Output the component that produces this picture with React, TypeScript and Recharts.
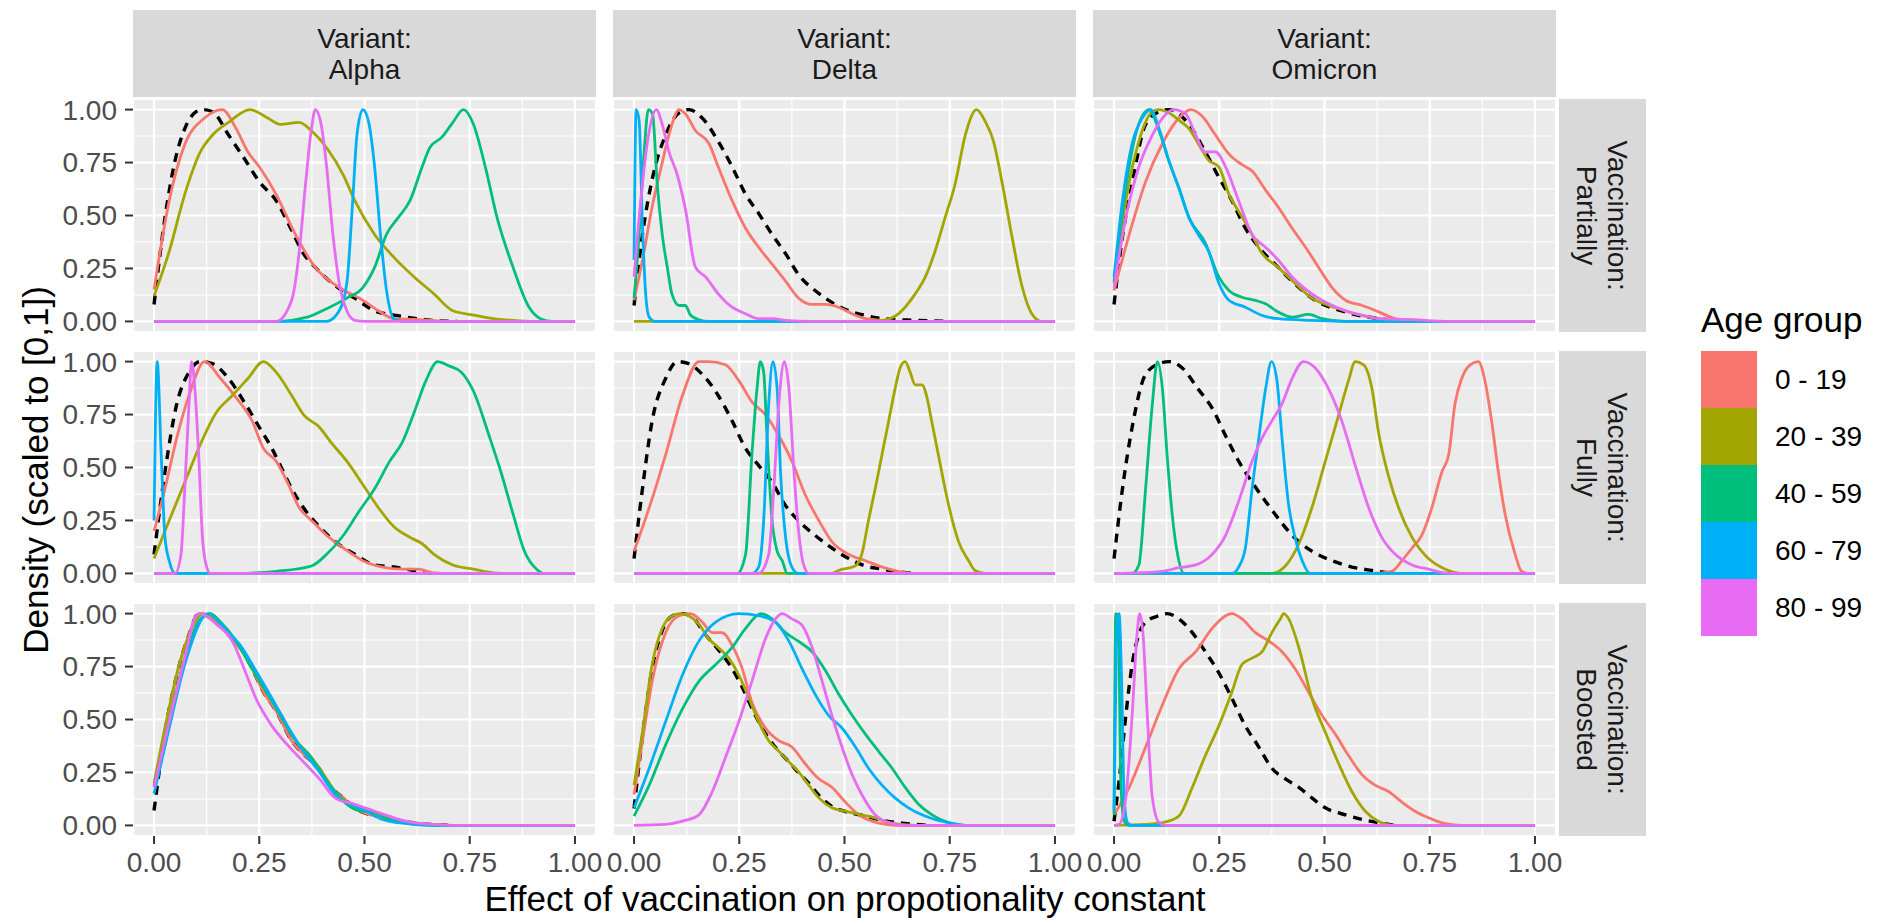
import React from "react";
import {
  LineChart,
  Line,
  XAxis,
  YAxis,
  CartesianGrid,
  ReferenceLine,
} from "recharts";

type Pt = [number, number];
type PanelData = { prior: Pt[]; ages: Pt[][] };

const VARIANTS = ["Alpha", "Delta", "Omicron"];
const VACCINATION = ["Partially", "Fully", "Boosted"];
const AGE_GROUPS = ["0 - 19", "20 - 39", "40 - 59", "60 - 79", "80 - 99"];
const AGE_COLORS = ["#F8766D", "#A3A500", "#00BF7D", "#00B0F6", "#E76BF3"];
const X_TICKS = [0, 0.25, 0.5, 0.75, 1];
const Y_TICKS = [0, 0.25, 0.5, 0.75, 1];
const MINOR_BREAKS = [0.125, 0.375, 0.625, 0.875];

// density curves, scaled to [0,1]; ages in AGE_GROUPS order
const alphaPartially: PanelData = {
  prior: [[0, .08], [.026, .49], [.05, .76], [.073, .91], [.1, .99], [.115, 1], [.139, .99], [.177, .88], [.214, .77], [.25, .66], [.29, .57], [.327, .43], [.355, .32], [.383, .255], [.43, .17], [.477, .11], [.524, .05], [.57, .03], [.6, .02], [.66, .005], [.72, 0]],
  ages: [
    [[0, .15], [.036, .57], [.073, .835], [.12, .96], [.162, 1], [.195, .91], [.223, .8], [.25, .73], [.29, .6], [.336, .41], [.383, .255], [.44, .16], [.496, .1], [.533, .05], [.57, .013], [.618, .01], [.66, .005], [.7, 0], [1, 0]],
    [[0, .12], [.036, .33], [.073, .6], [.11, .8], [.139, .88], [.177, .94], [.228, 1], [.27, .96], [.3, .93], [.345, .94], [.374, .9], [.41, .82], [.45, .69], [.477, .57], [.524, .41], [.571, .3], [.618, .21], [.665, .13], [.71, .05], [.759, .03], [.806, .013], [.85, .005], [.9, 0], [1, 0]],
    [[0, 0], [.29, 0], [.364, .02], [.41, .06], [.458, .11], [.496, .16], [.524, .255], [.552, .41], [.58, .49], [.608, .57], [.637, .73], [.655, .82], [.684, .87], [.71, .94], [.735, 1], [.759, .93], [.787, .73], [.815, .49], [.853, .255], [.89, .07], [.918, .013], [.946, 0], [1, 0]],
    [[0, 0], [.41, 0], [.44, .05], [.458, .18], [.472, .57], [.482, .88], [.496, 1], [.51, .94], [.524, .73], [.538, .41], [.552, .15], [.571, .01], [.59, 0], [1, 0]],
    [[0, 0], [.29, 0], [.327, .1], [.345, .33], [.36, .65], [.374, .91], [.383, 1], [.397, .93], [.41, .73], [.425, .41], [.44, .18], [.458, .05], [.477, .005], [.5, 0], [1, 0]],
  ],
};

const deltaPartially: PanelData = {
  prior: [[0, .075], [.02, .41], [.043, .67], [.075, .88], [.107, .985], [.13, 1], [.162, .96], [.2, .85], [.233, .73], [.265, .6], [.296, .51], [.328, .41], [.36, .32], [.391, .22], [.43, .146], [.47, .09], [.51, .05], [.55, .028], [.59, .013], [.668, .005], [.75, 0]],
  ages: [
    [[0, .1], [.02, .29], [.043, .54], [.067, .75], [.087, .91], [.107, 1], [.122, .98], [.146, .9], [.178, .84], [.2, .73], [.233, .57], [.265, .44], [.296, .35], [.328, .27], [.36, .19], [.391, .11], [.423, .08], [.455, .08], [.486, .067], [.518, .036], [.55, .013], [.59, .005], [.63, 0], [1, 0]],
    [[0, 0], [.55, 0], [.59, .005], [.628, .036], [.668, .13], [.692, .21], [.715, .33], [.739, .49], [.763, .65], [.787, .88], [.814, 1], [.834, .945], [.854, .85], [.874, .66], [.897, .41], [.92, .18], [.945, .036], [.968, 0], [1, 0]],
    [[0, .11], [.012, .41], [.024, .8], [.034, 1], [.044, .98], [.055, .65], [.067, .41], [.079, .255], [.09, .13], [.107, .075], [.122, .075], [.134, .03], [.154, .008], [.178, 0], [1, 0]],
    [[0, .29], [.005, 1], [.012, .95], [.02, .45], [.028, .12], [.036, .02], [.05, 0], [1, 0]],
    [[0, .21], [.016, .57], [.032, .85], [.053, 1], [.067, .93], [.083, .8], [.103, .69], [.122, .53], [.146, .255], [.17, .21], [.2, .13], [.233, .067], [.265, .036], [.296, .013], [.33, .013], [.36, .005], [.42, 0], [1, 0]],
  ],
};

const omicronPartially: PanelData = {
  prior: [[0, .08], [.02, .4], [.043, .65], [.075, .93], [.107, .99], [.13, 1], [.178, .93], [.217, .8], [.249, .68], [.28, .57], [.312, .44], [.344, .35], [.39, .255], [.423, .19], [.47, .11], [.55, .044], [.63, .013], [.71, 0]],
  ages: [
    [[0, .146], [.036, .41], [.075, .66], [.115, .84], [.154, .96], [.182, 1], [.209, .97], [.241, .88], [.273, .79], [.304, .74], [.328, .71], [.36, .62], [.39, .54], [.423, .44], [.455, .35], [.486, .255], [.518, .16], [.55, .1], [.59, .075], [.63, .044], [.668, .013], [.71, .005], [.747, 0], [1, 0]],
    [[0, .18], [.028, .57], [.059, .85], [.091, .99], [.107, 1], [.13, .985], [.154, .95], [.178, .91], [.2, .84], [.225, .76], [.249, .73], [.273, .6], [.296, .52], [.32, .44], [.352, .32], [.39, .255], [.43, .18], [.47, .11], [.51, .075], [.55, .05], [.59, .028], [.63, .013], [.71, 0], [1, 0]],
    [[0, .19], [.028, .63], [.051, .88], [.083, 1], [.107, .9], [.13, .76], [.154, .63], [.178, .49], [.217, .37], [.249, .21], [.273, .146], [.304, .114], [.336, .099], [.36, .083], [.39, .044], [.423, .02], [.462, .033], [.494, .013], [.55, 0], [1, 0]],
    [[0, .21], [.02, .57], [.043, .84], [.067, .96], [.087, 1], [.107, .91], [.13, .76], [.154, .63], [.178, .49], [.2, .41], [.225, .33], [.249, .18], [.273, .1], [.312, .067], [.352, .028], [.39, .013], [.47, .005], [.55, 0], [1, 0]],
    [[0, .16], [.028, .49], [.059, .73], [.091, .88], [.115, .96], [.142, 1], [.17, .98], [.194, .88], [.217, .8], [.241, .8], [.265, .73], [.296, .57], [.328, .41], [.36, .35], [.39, .29], [.423, .21], [.47, .13], [.51, .083], [.55, .05], [.59, .028], [.63, .013], [.71, .008], [.79, 0], [1, 0]],
  ],
};

const alphaFully: PanelData = {
  prior: [[0, .09], [.026, .48], [.054, .8], [.083, .95], [.11, 1], [.139, .99], [.177, .92], [.214, .81], [.25, .69], [.28, .59], [.3, .51], [.327, .4], [.355, .31], [.393, .22], [.43, .15], [.477, .09], [.524, .04], [.57, .03], [.627, .01], [.66, 0]],
  ages: [
    [[0, .2], [.026, .4], [.054, .64], [.083, .84], [.12, 1], [.158, .92], [.195, .83], [.233, .72], [.26, .59], [.29, .53], [.317, .43], [.345, .31], [.374, .25], [.41, .18], [.45, .12], [.496, .06], [.543, .03], [.59, .02], [.627, .02], [.665, .003], [.71, 0], [1, 0]],
    [[0, .07], [.036, .25], [.073, .43], [.11, .61], [.148, .76], [.186, .84], [.223, .92], [.26, 1], [.29, .95], [.327, .84], [.355, .75], [.393, .69], [.42, .62], [.458, .53], [.496, .42], [.533, .31], [.57, .22], [.608, .17], [.637, .14], [.665, .09], [.71, .04], [.759, .02], [.806, .003], [.85, 0], [1, 0]],
    [[0, 0], [.195, 0], [.29, .01], [.374, .035], [.41, .09], [.45, .18], [.486, .29], [.524, .4], [.56, .53], [.59, .62], [.618, .76], [.646, .91], [.674, 1], [.7, .98], [.73, .95], [.759, .86], [.796, .65], [.824, .48], [.853, .28], [.88, .105], [.909, .02], [.928, 0], [1, 0]],
    [[0, .25], [.0075, 1], [.017, .56], [.026, .17], [.036, .06], [.05, 0], [1, 0]],
    [[0, 0], [.05, 0], [.064, .09], [.073, .4], [.083, .8], [.089, 1], [.097, .87], [.106, .56], [.115, .17], [.125, .03], [.134, 0], [1, 0]],
  ],
};

const deltaFully: PanelData = {
  prior: [[0, .07], [.02, .4], [.043, .72], [.075, .92], [.103, 1], [.13, .99], [.162, .94], [.2, .84], [.233, .72], [.265, .59], [.296, .51], [.328, .43], [.36, .32], [.39, .25], [.43, .18], [.47, .12], [.51, .07], [.55, .035], [.59, .02], [.66, 0]],
  ages: [
    [[0, .105], [.036, .31], [.075, .56], [.115, .84], [.154, 1], [.178, 1], [.217, .985], [.249, .91], [.28, .81], [.312, .75], [.344, .65], [.375, .53], [.407, .37], [.439, .25], [.47, .15], [.51, .09], [.55, .06], [.59, .03], [.628, .01], [.668, 0], [1, 0]],
    [[0, 0], [.47, 0], [.486, .014], [.525, .035], [.541, .09], [.557, .25], [.573, .4], [.589, .56], [.605, .72], [.62, .87], [.632, .97], [.644, 1], [.656, .95], [.668, .89], [.684, .89], [.696, .83], [.707, .72], [.723, .56], [.739, .4], [.755, .26], [.771, .15], [.795, .06], [.81, .014], [.834, 0], [1, 0]],
    [[0, 0], [.245, 0], [.265, .09], [.28, .56], [.292, .87], [.3, 1], [.308, .95], [.316, .64], [.328, .25], [.34, .105], [.352, .06], [.364, 0], [1, 0]],
    [[0, 0], [.28, 0], [.296, .03], [.308, .25], [.32, .8], [.33, 1], [.34, .87], [.348, .48], [.36, .17], [.375, .03], [.39, 0], [1, 0]],
    [[0, 0], [.296, 0], [.32, .09], [.332, .4], [.344, .8], [.357, 1], [.368, .87], [.38, .48], [.39, .22], [.403, .04], [.415, 0], [1, 0]],
  ],
};

const omicronFully: PanelData = {
  prior: [[0, .07], [.02, .4], [.043, .69], [.075, .94], [.107, .99], [.13, 1], [.162, .97], [.2, .87], [.233, .78], [.265, .65], [.296, .53], [.328, .43], [.36, .34], [.39, .26], [.423, .18], [.47, .105], [.518, .06], [.565, .03], [.613, .014], [.66, 0]],
  ages: [
    [[0, 0], [.613, 0], [.66, .01], [.684, .06], [.708, .12], [.731, .18], [.755, .31], [.779, .48], [.795, .56], [.81, .8], [.826, .92], [.846, .985], [.866, 1], [.88, .92], [.897, .72], [.913, .48], [.929, .28], [.953, .09], [.968, .01], [.984, 0], [1, 0]],
    [[0, 0], [.375, 0], [.407, .035], [.439, .14], [.47, .31], [.502, .53], [.534, .75], [.557, .91], [.573, 1], [.593, .985], [.613, .87], [.628, .67], [.652, .46], [.676, .31], [.708, .17], [.747, .07], [.787, .02], [.826, 0], [1, 0]],
    [[0, 0], [.043, 0], [.059, .04], [.075, .4], [.091, .8], [.103, 1], [.115, .87], [.126, .56], [.142, .21], [.154, .06], [.166, 0], [1, 0]],
    [[0, 0], [.28, 0], [.296, .03], [.312, .12], [.328, .4], [.344, .64], [.36, .87], [.374, 1], [.387, .91], [.399, .64], [.415, .32], [.43, .17], [.447, .06], [.466, 0], [1, 0]],
    [[0, 0], [.115, .01], [.154, .027], [.194, .04], [.233, .09], [.265, .18], [.296, .34], [.328, .53], [.352, .64], [.375, .72], [.399, .8], [.423, .92], [.45, 1], [.478, .97], [.51, .87], [.541, .72], [.573, .51], [.605, .31], [.636, .17], [.668, .09], [.708, .04], [.747, .02], [.787, .003], [.826, 0], [1, 0]],
  ],
};

const alphaBoosted: PanelData = {
  prior: [[0, .07], [.026, .44], [.054, .71], [.083, .9], [.106, 1], [.139, .975], [.177, .9], [.205, .84], [.233, .74], [.26, .63], [.29, .54], [.327, .4], [.364, .32], [.392, .27], [.42, .18], [.45, .13], [.477, .08], [.515, .05], [.552, .036], [.59, .02], [.637, .008], [.71, 0]],
  ages: [
    [[0, .19], [.026, .44], [.054, .71], [.083, .9], [.106, 1], [.139, .975], [.177, .9], [.205, .84], [.233, .74], [.26, .63], [.29, .54], [.327, .4], [.364, .32], [.392, .27], [.42, .18], [.45, .13], [.477, .08], [.515, .05], [.552, .036], [.59, .02], [.637, .008], [.71, 0], [1, 0]],
    [[0, .2], [.03, .5], [.06, .76], [.09, .93], [.115, 1], [.145, .97], [.18, .89], [.21, .82], [.24, .72], [.27, .62], [.3, .53], [.33, .42], [.37, .33], [.4, .25], [.43, .16], [.46, .11], [.49, .07], [.52, .06], [.56, .03], [.6, .015], [.65, .005], [.7, 0], [1, 0]],
    [[0, .18], [.036, .49], [.073, .79], [.11, .975], [.134, 1], [.158, .96], [.195, .87], [.233, .74], [.27, .62], [.3, .52], [.336, .4], [.374, .32], [.4, .24], [.43, .16], [.458, .1], [.486, .07], [.515, .067], [.552, .036], [.59, .013], [.665, 0], [1, 0]],
    [[0, .15], [.036, .46], [.073, .76], [.12, .99], [.13, 1], [.167, .93], [.205, .85], [.242, .73], [.28, .6], [.317, .47], [.355, .35], [.392, .255], [.43, .146], [.467, .1], [.505, .067], [.543, .028], [.58, .013], [.665, 0], [1, 0]],
    [[0, .18], [.036, .49], [.073, .79], [.1, .99], [.11, 1], [.148, .95], [.186, .87], [.214, .74], [.242, .6], [.28, .47], [.317, .38], [.355, .3], [.393, .22], [.43, .13], [.477, .1], [.524, .067], [.57, .036], [.618, .013], [.665, .005], [.71, 0], [1, 0]],
  ],
};

const deltaBoosted: PanelData = {
  prior: [[0, .08], [.02, .42], [.043, .74], [.067, .92], [.091, .99], [.115, 1], [.14, .98], [.17, .9], [.2, .83], [.233, .74], [.26, .64], [.288, .52], [.32, .41], [.344, .35], [.368, .3], [.39, .25], [.415, .2], [.44, .14], [.47, .09], [.5, .067], [.55, .044], [.6, .02], [.65, .008], [.7, 0]],
  ages: [
    [[0, .146], [.02, .4], [.043, .68], [.075, .91], [.107, .99], [.134, 1], [.162, .96], [.186, .91], [.209, .91], [.233, .85], [.257, .74], [.28, .58], [.312, .46], [.344, .4], [.375, .37], [.407, .29], [.439, .22], [.47, .18], [.502, .11], [.534, .05], [.565, .02], [.597, .005], [.628, 0], [1, 0]],
    [[0, .19], [.02, .44], [.043, .76], [.067, .93], [.091, .99], [.11, 1], [.13, .99], [.154, .95], [.178, .88], [.2, .84], [.225, .79], [.249, .71], [.273, .6], [.296, .49], [.32, .4], [.344, .35], [.368, .3], [.39, .255], [.415, .19], [.439, .13], [.47, .083], [.502, .067], [.54, .05], [.573, .036], [.605, .013], [.668, 0], [1, 0]],
    [[0, .044], [.036, .19], [.075, .38], [.115, .55], [.154, .68], [.194, .76], [.233, .84], [.265, .93], [.302, 1], [.328, .975], [.36, .91], [.39, .87], [.423, .82], [.455, .73], [.486, .62], [.518, .52], [.55, .43], [.581, .35], [.613, .27], [.644, .18], [.676, .1], [.708, .05], [.747, .013], [.787, 0], [1, 0]],
    [[0, .083], [.036, .27], [.075, .49], [.115, .71], [.154, .87], [.194, .96], [.249, 1], [.296, .99], [.336, .96], [.368, .87], [.399, .74], [.43, .62], [.462, .52], [.494, .46], [.526, .37], [.557, .27], [.589, .19], [.62, .13], [.652, .083], [.684, .05], [.715, .028], [.747, .013], [.787, 0], [1, 0]],
    [[0, 0], [.075, .005], [.115, .02], [.154, .05], [.186, .16], [.217, .32], [.249, .49], [.28, .68], [.312, .88], [.336, .975], [.352, 1], [.375, .975], [.399, .945], [.423, .84], [.447, .68], [.47, .52], [.494, .37], [.518, .24], [.541, .146], [.573, .05], [.605, .013], [.644, 0], [1, 0]],
  ],
};

const omicronBoosted: PanelData = {
  prior: [[0, .02], [.012, .21], [.028, .52], [.043, .76], [.075, .96], [.107, .99], [.126, 1], [.154, .975], [.186, .91], [.217, .82], [.249, .72], [.28, .6], [.312, .47], [.344, .37], [.375, .27], [.407, .22], [.439, .18], [.47, .13], [.502, .083], [.55, .05], [.589, .028], [.628, .013], [.668, 0]],
  ages: [
    [[0, .05], [.036, .18], [.075, .37], [.115, .57], [.154, .74], [.194, .82], [.233, .93], [.265, .99], [.28, 1], [.304, .975], [.336, .91], [.368, .87], [.399, .82], [.43, .74], [.462, .63], [.494, .52], [.526, .43], [.557, .33], [.589, .24], [.62, .19], [.652, .16], [.684, .11], [.715, .067], [.747, .036], [.787, .008], [.826, 0], [1, 0]],
    [[0, 0], [.075, .005], [.115, .013], [.154, .044], [.186, .18], [.217, .33], [.249, .47], [.28, .63], [.304, .76], [.328, .79], [.352, .82], [.375, .91], [.395, .975], [.403, 1], [.415, .975], [.439, .84], [.47, .6], [.502, .44], [.534, .29], [.565, .16], [.597, .067], [.628, .02], [.668, 0], [1, 0]],
    [[0, .05], [.004, 1], [.01, .99], [.016, .21], [.024, .02], [.036, 0], [1, 0]],
    [[0, .07], [.0055, .84], [.012, 1], [.018, .68], [.024, .13], [.032, .013], [.043, 0], [1, 0]],
    [[0, 0], [.012, .005], [.028, .13], [.043, .52], [.055, .91], [.061, 1], [.069, .9], [.079, .52], [.091, .13], [.107, .013], [.122, 0], [1, 0]],
  ],
};

// rows = vaccination status, columns = variant
const PANELS: PanelData[][] = [
  [alphaPartially, deltaPartially, omicronPartially],
  [alphaFully, deltaFully, omicronFully],
  [alphaBoosted, deltaBoosted, omicronBoosted],
];

const FONT = "'Liberation Sans', Arial, Helvetica, sans-serif";
const PANEL_W = 463;
const PANEL_H = 233;
const COL_LEFT = [133, 613, 1093];
const ROW_TOP = [99, 351, 603];
const STRIP = 87;
const Y_AXIS_W = 100;
const X_AXIS_H = 45;
// breathing room around each plot area so tick text is not clipped
const PAD_Y = 10;
const PAD_X = 32;

const toPoints = (pts: Pt[]) => pts.map(([x, y]) => ({ x, y }));
const tickStyle = { fill: "#4D4D4D", fontSize: 28, fontFamily: FONT };

function Panel({ row, col }: { row: number; col: number }) {
  const panel = PANELS[row][col];
  const showY = col === 0;
  const showX = row === PANELS.length - 1;
  const width = PANEL_W + (showY ? Y_AXIS_W : 0) + 2 * PAD_X;
  const height = PANEL_H + (showX ? X_AXIS_H : 0) + 2 * PAD_Y;

  return (
    <div
      style={{
        position: "absolute",
        left: COL_LEFT[col] - (showY ? Y_AXIS_W : 0) - PAD_X,
        top: ROW_TOP[row] - PAD_Y,
      }}
    >
      <LineChart
        width={width}
        height={height}
        margin={{ top: PAD_Y, right: PAD_X, bottom: PAD_Y, left: PAD_X }}
      >
        <CartesianGrid fill="#EBEBEB" stroke="#FFFFFF" strokeWidth={2.2} />
        <XAxis
          dataKey="x"
          type="number"
          domain={[-0.05, 1.05]}
          ticks={X_TICKS}
          interval={0}
          allowDataOverflow
          hide={!showX}
          height={X_AXIS_H}
          axisLine={false}
          tickSize={8}
          tickMargin={8}
          tickLine={{ stroke: "#333333", strokeWidth: 2 }}
          tick={tickStyle}
          tickFormatter={(v: number) => v.toFixed(2)}
        />
        <YAxis
          type="number"
          domain={[-0.05, 1.05]}
          ticks={Y_TICKS}
          interval={0}
          allowDataOverflow
          hide={!showY}
          width={Y_AXIS_W}
          axisLine={false}
          tickSize={8}
          tickMargin={8}
          tickLine={{ stroke: "#333333", strokeWidth: 2 }}
          tick={tickStyle}
          tickFormatter={(v: number) => v.toFixed(2)}
        />
        {MINOR_BREAKS.map((v) => (
          <ReferenceLine key={`mx${v}`} x={v} stroke="#FFFFFF" strokeWidth={1.1} />
        ))}
        {MINOR_BREAKS.map((v) => (
          <ReferenceLine key={`my${v}`} y={v} stroke="#FFFFFF" strokeWidth={1.1} />
        ))}
        <Line
          data={toPoints(panel.prior)}
          dataKey="y"
          type="monotone"
          stroke="#000000"
          strokeWidth={3.4}
          strokeDasharray="9 7"
          dot={false}
          activeDot={false}
          isAnimationActive={false}
        />
        {panel.ages.map((pts, i) => (
          <Line
            key={AGE_GROUPS[i]}
            data={toPoints(pts)}
            dataKey="y"
            name={AGE_GROUPS[i]}
            type="monotone"
            stroke={AGE_COLORS[i]}
            strokeWidth={2.8}
            dot={false}
            activeDot={false}
            isAnimationActive={false}
          />
        ))}
      </LineChart>
    </div>
  );
}

export default function App() {
  return (
    <div
      style={{
        position: "absolute",
        left: 0,
        top: 0,
        width: 1885,
        height: 924,
        background: "#FFFFFF",
        fontFamily: FONT,
      }}
    >
      {VARIANTS.map((v, c) => (
        <div
          key={v}
          style={{
            position: "absolute",
            left: COL_LEFT[c],
            top: 10,
            width: PANEL_W,
            height: STRIP,
            background: "#D9D9D9",
            color: "#1A1A1A",
            fontSize: 28,
            lineHeight: "31px",
            display: "flex",
            flexDirection: "column",
            alignItems: "center",
            justifyContent: "center",
          }}
        >
          <div>Variant:</div>
          <div>{v}</div>
        </div>
      ))}

      {VACCINATION.map((v, r) => (
        <div
          key={v}
          style={{
            position: "absolute",
            left: 1559,
            top: ROW_TOP[r],
            width: STRIP,
            height: PANEL_H,
            background: "#D9D9D9",
          }}
        >
          <div
            style={{
              position: "absolute",
              left: (STRIP - PANEL_H) / 2,
              top: (PANEL_H - STRIP) / 2,
              width: PANEL_H,
              height: STRIP,
              transform: "rotate(90deg)",
              color: "#1A1A1A",
              fontSize: 28,
              lineHeight: "31px",
              display: "flex",
              flexDirection: "column",
              alignItems: "center",
              justifyContent: "center",
            }}
          >
            <div>Vaccination:</div>
            <div>{v}</div>
          </div>
        </div>
      ))}

      <div
        style={{
          position: "absolute",
          left: 36 - 300,
          top: 470 - 20,
          width: 600,
          height: 40,
          lineHeight: "40px",
          textAlign: "center",
          fontSize: 35,
          color: "#000000",
          transform: "rotate(-90deg)",
        }}
      >
        Density (scaled to [0,1])
      </div>

      {PANELS.map((rowPanels, r) =>
        rowPanels.map((_, c) => <Panel key={`${r}-${c}`} row={r} col={c} />)
      )}

      <div
        style={{
          position: "absolute",
          left: 845 - 500,
          top: 899 - 20,
          width: 1000,
          height: 40,
          lineHeight: "40px",
          textAlign: "center",
          fontSize: 35,
          color: "#000000",
        }}
      >
        Effect of vaccination on propotionality constant
      </div>

      <div
        style={{
          position: "absolute",
          left: 1701,
          top: 300,
          height: 40,
          lineHeight: "40px",
          fontSize: 35,
          color: "#000000",
          whiteSpace: "nowrap",
        }}
      >
        Age group
      </div>
      {AGE_GROUPS.map((g, i) => (
        <React.Fragment key={g}>
          <div
            style={{
              position: "absolute",
              left: 1701,
              top: 351 + i * 57,
              width: 56,
              height: 57,
              background: AGE_COLORS[i],
            }}
          />
          <div
            style={{
              position: "absolute",
              left: 1775,
              top: 351 + i * 57,
              height: 57,
              lineHeight: "57px",
              fontSize: 28,
              color: "#000000",
              whiteSpace: "nowrap",
            }}
          >
            {g}
          </div>
        </React.Fragment>
      ))}
    </div>
  );
}
